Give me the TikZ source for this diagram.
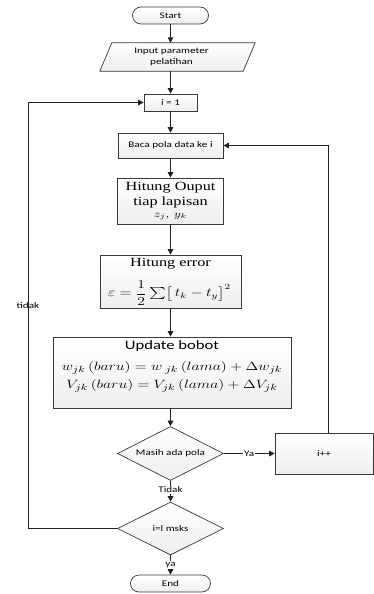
\documentclass[tikz,border=0pt]{standalone}
\usepackage{amsmath}
\usepackage{fontspec}
\setmainfont{Carlito}
\newfontfamily\serifx{Liberation Serif}
\usepackage{graphicx}
\usetikzlibrary{arrows.meta,shapes.geometric,backgrounds}
\newcommand{\sx}[1]{\scalebox{1.3}[1]{#1}}
\newcommand{\lbl}[1]{\sx{\fontsize{8.6}{10.5}\selectfont #1}}
\newcommand{\ttl}[1]{\sx{\serifx\fontsize{12.5}{14}\selectfont #1}}
\begin{document}
\begin{tikzpicture}[x=1pt,y=-1pt,
  box/.style={draw=gray!45!black, line width=0.7pt, top color=white, bottom color=gray!13, inner sep=0pt, align=center},
  term/.style={box, rounded corners=8.5pt},
  dia/.style={box, diamond, aspect=1.96},
  line/.style={draw=gray!25!black, line width=0.75pt},
  arr/.style={line, -{Triangle[length=5.5pt,width=5.5pt]}},
  lblnode/.style={fill=white, inner sep=1pt}]
\useasboundingbox (0,0) rectangle (374,594);

% nodes
\node[term, minimum width=76, minimum height=17] (start) at (170.5,15.5) {\lbl{Start}};
\node[minimum width=143, minimum height=28, inner sep=0pt, align=center] (inp) at (171.5,57)
  {\sx{\fontsize{8.6}{10.5}\selectfont\begin{tabular}{@{}c@{}}Input parameter\\pelatihan\end{tabular}}};
\begin{scope}[on background layer]
  \path[box] (inp.south west) -- ([xshift=12pt]inp.north west) -- ([xshift=12pt]inp.north east) -- (inp.south east) -- cycle;
\end{scope}
\node[box, minimum width=53, minimum height=17] (i1) at (170.5,102.5) {\lbl{i = 1}};
\node[box, minimum width=105, minimum height=25] (baca) at (170.5,145.5) {\lbl{Baca pola data ke i}};

\node[box, minimum width=106, minimum height=46] (hout) at (170.5,201) {};
\node (houtA) at (170.5,188) {\ttl{Hitung Ouput}};
\node (houtB) at (170.5,202) {\ttl{tiap lapisan}};
\node (houtC) at (170.5,216.5) {\sx{\fontsize{10}{12}\selectfont $z_j,\ y_k$}};

\node[box, minimum width=141, minimum height=53] (err) at (170.5,281.5) {};
\node (errA) at (170.5,263.5) {\ttl{Hitung error}};
\node (errB) at (169.5,293) {\sx{\fontsize{11.5}{13}\selectfont $\varepsilon = \dfrac{1}{2}\sum\bigl[\,t_k - t_y\bigr]^{2}$}};

\node[box, minimum width=238, minimum height=71] (upd) at (172,372.5) {};
\node (updA) at (172,346) {\sx{\fontsize{12.8}{15}\selectfont Update bobot}};
\node (updB) at (172,367.5) {\sx{\fontsize{13}{15}\selectfont $w_{jk}\,(baru) = w_{\;jk}\,(lama) + \Delta w_{jk}$}};
\node (updC) at (172,386) {\sx{\fontsize{13}{15}\selectfont $V_{jk}\,(baru) = V_{jk}\,(lama) + \Delta V_{jk}$}};

\node[dia, minimum width=106, minimum height=54] (masih) at (170.5,453.5) {\makebox[0pt]{\lbl{Masih ada pola}}};
\node[box, minimum width=98, minimum height=41] (ipp) at (324,453.5) {\lbl{i++}};
\node[dia, minimum width=106, minimum height=53] (msks) at (170.5,528.5) {\makebox[0pt]{\lbl{i=l msks}}};
\node[term, minimum width=80, minimum height=17] (end) at (170.5,583.5) {\lbl{End}};

\coordinate (L) at (28,0);
\coordinate (R) at (328,0);

% connectors
\draw[arr] (start.south) -- (start.south |- inp.north);
\draw[arr] (inp.south -| i1) -- (i1.north);
\draw[arr] (i1.south) -- (baca.north);
\draw[arr] (baca.south) -- (hout.north);
\draw[arr] (hout.south) -- (err.north);
\draw[arr] (err.south) -- (err.south |- upd.north);
\draw[arr] (upd.south -| masih) -- (masih.north);
\draw[arr] (masih.east) -- node[lblnode] (ya1) {\lbl{Ya}} (ipp.west);
\draw[arr] (masih.south) -- node[lblnode, pos=0.42] (tidak1) {\lbl{Tidak}} (msks.north);
\draw[arr] (msks.south) -- node[lblnode, pos=0.5] (ya2) {\lbl{ya}} (end.north);
\draw[arr] (ipp.north -| R) -- (baca.east -| R) -- (baca.east);
\draw[arr] (msks.west) -- (msks.west -| L) -- (i1.west -| L) -- (i1.west);
\node (tidak2) at (28,306) {\lbl{tidak}};
\end{tikzpicture}
\end{document}
